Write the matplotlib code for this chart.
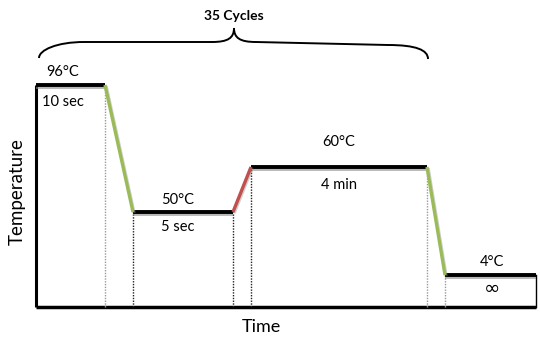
import matplotlib
matplotlib.use("Agg")
import matplotlib.pyplot as plt
from matplotlib.path import Path
from matplotlib.patches import PathPatch
import matplotlib.patheffects as pe

# Schematic PCR profile
temps = ["96°C", "50°C", "60°C", "4°C"]
hold_times = ["10 sec", "5 sec", "4 min", "∞"]
levels = [222, 95, 140, 32]          # schematic heights
hold_len = [69, 100, 176, 91]        # schematic durations
ramp_len = [28, 18, 18]
ramp_colors = ["#9BBB59", "#C0504D", "#9BBB59"]
dotted_colors = ["#999999", "#222222", "#222222", "#222222", "#999999", "#999999"]
cycle_label = "35 Cycles"

plt.rcParams['font.family'] = ['Lato', 'DejaVu Sans']
fig = plt.figure(figsize=(5.4, 3.42), dpi=100)
ax = fig.add_axes([0, 0, 1, 1])
ax.set_xlim(-36, 504)
ax.set_ylim(-35, 307)
ax.axis('off')

# build segment positions
x = 0
holds = []
ramps = []
for i, L in enumerate(hold_len):
    holds.append((x, x + L, levels[i]))
    x += L
    if i < len(ramp_len):
        ramps.append((x, x + ramp_len[i], levels[i], levels[i + 1]))
        x += ramp_len[i]
x_end = x

# axes lines
ax.plot([0, 0], [0, levels[0]], color='black', lw=2.2, solid_capstyle='butt')
ax.plot([0, x_end], [0, 0], color='black', lw=2.5, solid_capstyle='butt')
ax.plot([x_end, x_end], [0, levels[-1]], color='black', lw=1.0)

# dotted verticals at ramp ends
k = 0
for (x0, x1, y0, y1) in ramps:
    ax.plot([x0, x0], [0, y0], color=dotted_colors[k], lw=1.0, ls=(0, (1, 1)))
    ax.plot([x1, x1], [0, y1], color=dotted_colors[k + 1], lw=1.0, ls=(0, (1, 1)))
    k += 2

shadow = [pe.SimpleLineShadow(offset=(0, -1.5), shadow_color='#888888', alpha=0.6), pe.Normal()]
for (x0, x1, y) in holds:
    ax.plot([x0, x1], [y, y], color='black', lw=2.8, solid_capstyle='butt', path_effects=shadow)
for (x0, x1, y0, y1), c in zip(ramps, ramp_colors):
    ax.plot([x0, x1], [y0, y1], color=c, lw=2.4, solid_capstyle='butt',
            path_effects=[pe.SimpleLineShadow(offset=(0.8, -0.8), shadow_color='#888888', alpha=0.4), pe.Normal()])

# labels
top_off = [13, 12, 25, 13]
bot_off = [17, 15, 18, 13]
x_shift = [-8, -5, 0, 2]
for i, (x0, x1, y) in enumerate(holds):
    cx = (x0 + x1) / 2 + x_shift[i]
    ax.text(cx, y + top_off[i], temps[i], ha='center', va='center', fontsize=10.5)
    if hold_times[i] == "∞":
        ax.text(cx, y - bot_off[i], hold_times[i], ha='center', va='center',
                fontsize=14, family=['DejaVu Sans'])
    else:
        ax.text(cx, y - bot_off[i], hold_times[i], ha='center', va='center', fontsize=10.5)

# brace over cycles
bx0 = 3
bx1 = ramps[-1][0] + 1
bmid = (holds[1][1] + ramps[1][0]) / 2 + 1
yb0, yh, yh2, ypk = 249, 265, 262, 279
verts = [(bx0, yb0),
         (bx0, yh - 8), (bx0 + 18, yh), (bx0 + 45, yh),
         (bmid - 22, yh),
         (bmid - 6, yh), (bmid, yh + 4), (bmid, ypk),
         (bmid, yh + 4), (bmid + 6, yh), (bmid + 22, yh),
         (bx1 - 40, yh2),
         (bx1 - 12, yh2), (bx1, yh2 - 5), (bx1, yb0 - 1)]
codes = [Path.MOVETO,
         Path.CURVE4, Path.CURVE4, Path.CURVE4,
         Path.LINETO,
         Path.CURVE4, Path.CURVE4, Path.CURVE4,
         Path.CURVE4, Path.CURVE4, Path.CURVE4,
         Path.LINETO,
         Path.CURVE4, Path.CURVE4, Path.CURVE4]
ax.add_patch(PathPatch(Path(verts, codes), fill=False, lw=1.4, edgecolor='black'))
ax.text(bmid, 291, cycle_label, ha='center', va='center', fontsize=10, fontweight='bold')

ax.text(-19, 115, "Temperature", rotation=90, ha='center', va='center', fontsize=13.5)
ax.text(225, -20, "Time", ha='center', va='center', fontsize=13)

fig.savefig("out.png", dpi=100)
